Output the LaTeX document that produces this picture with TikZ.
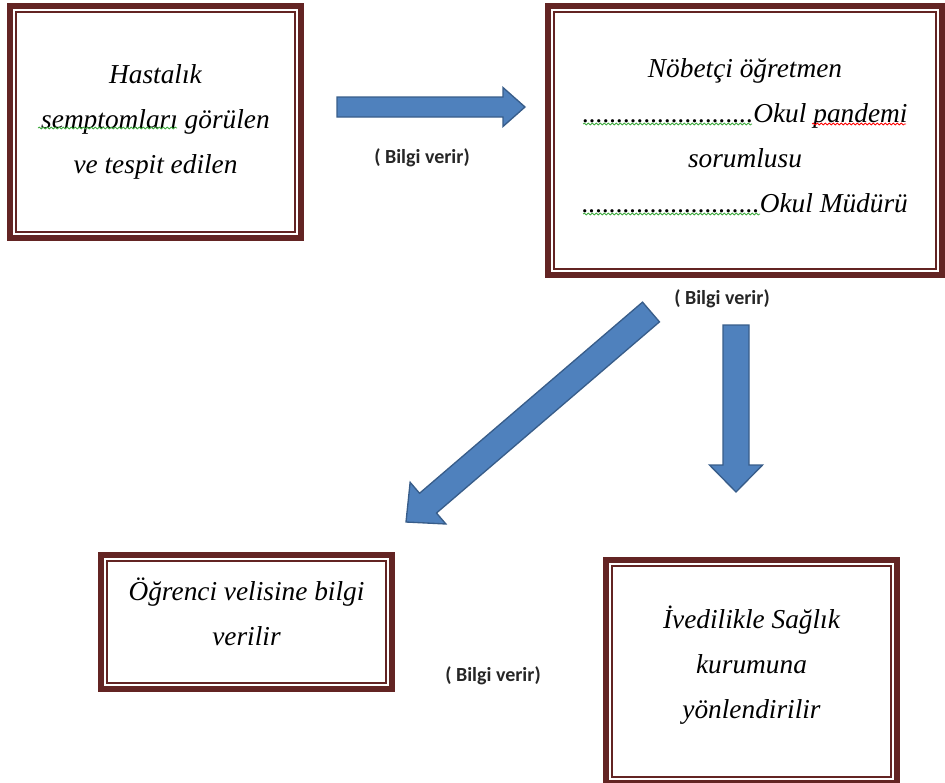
\documentclass[tikz,border=0pt]{standalone}
\usepackage{fontspec}
\setmainfont{Liberation Serif}
\newfontfamily\calfont{Carlito}
\usetikzlibrary{calc, decorations.pathmorphing}
\definecolor{framered}{RGB}{99,36,35}
\definecolor{arrowblue}{RGB}{79,129,189}
\definecolor{arrowedge}{RGB}{56,93,138}
\definecolor{spellgreen}{RGB}{60,170,60}
\tikzstyle{frame}=[rectangle, draw=framered, line width=4.5pt, fill=white, align=center,
  font=\itshape\fontsize{20.5}{33.75}\selectfont,
  path picture={\draw[framered, line width=1.5pt] ([shift={(4.5pt,-4.5pt)}]path picture bounding box.north west) rectangle ([shift={(-4.5pt,4.5pt)}]path picture bounding box.south east);}]
\tikzstyle{lbl}=[font=\calfont\bfseries\fontsize{15}{18}\selectfont, text=black!85, inner sep=0pt]
\tikzstyle{barrow}=[fill=arrowblue, draw=arrowedge, line width=1pt]
\tikzstyle{squiggle}=[decorate, decoration={snake, amplitude=0.7pt, segment length=3pt}, line width=0.6pt]
% tail, tip, shaft half width, head half width, head length
\newcommand{\bigarrow}[5]{%
  \coordinate (hb) at ($(#2)!#5!(#1)$);
  \filldraw[barrow] ($(#1)!#3!90:(#2)$) -- ($(hb)!#3!-90:(#1)$) -- ($(hb)!#4!-90:(#1)$) -- (#2)
    -- ($(hb)!#4!90:(#1)$) -- ($(hb)!#3!90:(#1)$) -- ($(#1)!#3!-90:(#2)$) -- cycle;}

\begin{document}
\begin{tikzpicture}[x=0.75pt, y=-0.75pt]
    \useasboundingbox (0,0) rectangle (945,782);
    \node[frame, minimum width=218.25pt, minimum height=174pt] (sick) at (155.5,122) {Hastalık\\semptomları görülen\\ve tespit edilen};
    \node[frame, minimum width=295.5pt, minimum height=201.75pt, text depth=7.5pt] (duty) at (745,140.5) {Nöbetçi öğretmen\\.........................Okul pandemi\\sorumlusu\\..........................Okul Müdürü};
    \node[frame, minimum width=218.25pt, minimum height=100.5pt, text depth=15pt] (parent) at (246.5,622) {Öğrenci velisine bilgi\\verilir};
    \node[frame, minimum width=218.25pt, minimum height=167.25pt, text depth=13.5pt] (health) at (751.5,671.5) {İvedilikle Sağlık\\kurumuna\\yönlendirilir};
    % spell check marks
    \draw[squiggle, spellgreen] (38,128) -- (177,128);
    \draw[squiggle, spellgreen] (583,124) -- (752,124);
    \draw[squiggle, red] (812,124) -- (906,124);
    \draw[squiggle, spellgreen] (583,214) -- (760,214);
    % arrows
    \coordinate (a1s) at (337,107);
    \coordinate (a1e) at (525,107);
    \coordinate (a2s) at (651,312);
    \coordinate (a2e) at (406,522);
    \coordinate (a3s) at (736,325);
    \coordinate (a3e) at (736,492);
    \bigarrow{a1s}{a1e}{7.5pt}{14.6pt}{16.5pt}
    \bigarrow{a2s}{a2e}{9.75pt}{20.6pt}{21.75pt}
    \bigarrow{a3s}{a3e}{9.75pt}{19.9pt}{20.25pt}
    \node[lbl] (info1) at (422,158) {( Bilgi verir)};
    \node[lbl] (info2) at (722,299) {( Bilgi verir)};
    \node[lbl] (info3) at (493,676) {( Bilgi verir)};
\end{tikzpicture}
\end{document}
